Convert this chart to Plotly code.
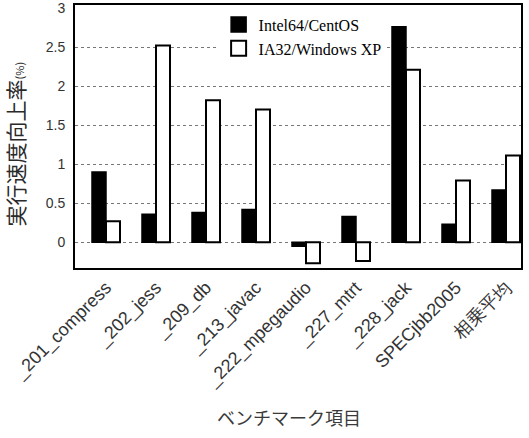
import plotly.graph_objects as go

categories = ["_201_compress", "_202_jess", "_209_db", "_213_javac", "_222_mpegaudio",
              "_227_mtrt", "_228_jack", "SPECjbb2005", "相乗平均"]
intel64_centos = [0.90, 0.36, 0.38, 0.42, -0.05, 0.33, 2.76, 0.23, 0.67]
ia32_winxp = [0.27, 2.52, 1.82, 1.70, -0.27, -0.24, 2.21, 0.79, 1.11]
y_ticks = [0, 0.5, 1, 1.5, 2, 2.5, 3]
y_tick_labels = ["0", "0.5", "1", "1.5", "2", "2.5", "3"]
grid_values = [0, 0.5, 1, 1.5, 2, 2.5]
series_names = ["Intel64/CentOS", "IA32/Windows XP"]
x_title = "ベンチマーク項目"
y_title = "実行速度向上率<span style='font-size:11px'>(%)</span>"

fig = go.Figure()
fig.add_trace(go.Bar(x=categories, y=intel64_centos, name=series_names[0], showlegend=False,
                     marker=dict(color="black", line=dict(color="black", width=1.5))))
fig.add_trace(go.Bar(x=categories, y=ia32_winxp, name=series_names[1], showlegend=False,
                     marker=dict(color="white", line=dict(color="black", width=2))))
# legend entries with larger square swatches
fig.add_trace(go.Scatter(x=[None], y=[None], mode="markers", name=series_names[0],
                         marker=dict(symbol="square", size=15, color="black",
                                     line=dict(color="black", width=1.5))))
fig.add_trace(go.Scatter(x=[None], y=[None], mode="markers", name=series_names[1],
                         marker=dict(symbol="square", size=15, color="white",
                                     line=dict(color="black", width=2))))

fig.update_layout(
    width=529, height=438,
    margin=dict(l=75, r=8, t=5, b=170),
    paper_bgcolor="white", plot_bgcolor="white",
    barmode="group", bargap=0.44, bargroupgap=0,
    showlegend=True,
    legend=dict(x=0.322, y=0.99, xanchor="left", yanchor="top",
                bgcolor="white", borderwidth=0,
                font=dict(family="Liberation Serif", size=16, color="black"),
                itemwidth=30, tracegroupgap=0),
    font=dict(family="Liberation Sans", color="#333"),
    annotations=[
        dict(text=x_title, xref="paper", yref="paper", x=0.48, y=-0.5665,
             xanchor="center", yanchor="middle", showarrow=False,
             font=dict(family="Noto Sans CJK JP", size=18, color="#3a3a3a")),
        dict(text=y_title, xref="paper", yref="paper", x=-0.1345, y=0.47,
             xanchor="center", yanchor="middle", showarrow=False, textangle=-90,
             font=dict(family="Noto Sans CJK JP", size=21, color="#2a2a2a")),
    ],
)
fig.update_xaxes(
    type="category", range=[-0.62, 8.3], automargin=False,
    tickangle=-45, tickfont=dict(family="Liberation Sans", size=18, color="#333"),
    showline=True, linecolor="black", linewidth=2, mirror=True,
    ticks="", showgrid=False,
)
fig.update_yaxes(
    range=[-0.33, 3.04], automargin=False,
    tickvals=y_ticks, ticktext=y_tick_labels,
    tickfont=dict(family="Liberation Sans", size=14, color="#333"),
    ticklabelstandoff=5,
    showline=True, linecolor="black", linewidth=2, mirror=True,
    showgrid=False, zeroline=False,
    minor=dict(tickvals=grid_values, showgrid=True, gridcolor="#777",
               griddash="dot", gridwidth=1, ticks=""),
    ticks="", ticklen=0,
)
fig.write_html("out.html")
